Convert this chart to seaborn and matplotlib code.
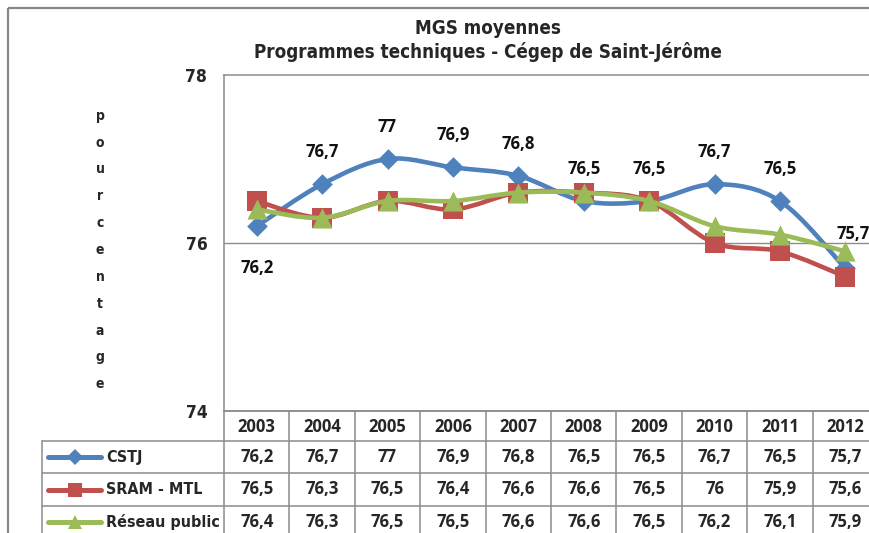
import numpy as np
import pandas as pd
import seaborn as sns
import matplotlib
matplotlib.use("Agg")
import matplotlib.pyplot as plt
from matplotlib import font_manager as fm
from matplotlib.path import Path
from matplotlib.patches import PathPatch, Rectangle
from matplotlib.lines import Line2D
from matplotlib.transforms import blended_transform_factory

# ---------------- data ----------------
years = ["2003", "2004", "2005", "2006", "2007", "2008", "2009", "2010", "2011", "2012"]
series_names = ["CSTJ", "SRAM - MTL", "Réseau public"]
cstj = [76.2, 76.7, 77.0, 76.9, 76.8, 76.5, 76.5, 76.7, 76.5, 75.7]
sram = [76.5, 76.3, 76.5, 76.4, 76.6, 76.6, 76.5, 76.0, 75.9, 75.6]
reseau = [76.4, 76.3, 76.5, 76.5, 76.6, 76.6, 76.5, 76.2, 76.1, 75.9]
y_ticks = [74, 76, 78]
title_lines = ["MGS moyennes", "Programmes techniques - Cégep de Saint-Jérôme"]
y_label = "pourcentage"

values = {"CSTJ": cstj, "SRAM - MTL": sram, "Réseau public": reseau}
df = pd.DataFrame({
    "idx": list(range(len(years))) * 3,
    "series": sum([[s] * len(years) for s in series_names], []),
    "value": cstj + sram + reseau,
})


def fmt(v):
    return ("%g" % v).replace(".", ",")


# ---------------- fonts ----------------
def pick(cands, need=("bold",)):
    for fam, stretch in cands:
        try:
            p = fm.findfont(fm.FontProperties(family=fam, weight="bold", stretch=stretch),
                            fallback_to_default=False)
        except Exception:
            continue
        low = p.lower().replace("-", "").replace("_", "")
        if all(n in low for n in need):
            return fam, stretch
    return "DejaVu Sans", "normal"


sns.set_style("white")
NARROW_FAM, NARROW_STRETCH = pick([("Liberation Sans Narrow", "normal"),
                                   ("DejaVu Sans", "condensed"),
                                   ("Liberation Sans", "normal")])
WIDE_FAM, _ = pick([("Noto Sans", "normal"), ("Open Sans", "normal"), ("Roboto", "normal"),
                    ("Lato", "normal"), ("DejaVu Sans", "normal")])
NARROW = dict(family=[NARROW_FAM, "DejaVu Sans"], stretch=NARROW_STRETCH, fontweight="bold")
WIDE = dict(family=[WIDE_FAM, "DejaVu Sans"], fontweight="bold")
plt.rcParams["font.family"] = [NARROW_FAM, "DejaVu Sans"]

colors = {"CSTJ": "#4F81BD", "SRAM - MTL": "#C0504D", "Réseau public": "#9BBB59"}
markers = {"CSTJ": "D", "SRAM - MTL": "s", "Réseau public": "^"}
msize = {"CSTJ": 10.5, "SRAM - MTL": 14.0, "Réseau public": 14.5}
GRAY = "#8C8C8C"

W, H = 870, 533
fig = plt.figure(figsize=(W / 100, H / 100), dpi=100)
fig.patch.set_facecolor("white")

ov = fig.add_axes([0, 0, 1, 1], zorder=0)
ov.set_xlim(0, W)
ov.set_ylim(H, 0)
ov.axis("off")

left_px, right_px, top_px, bot_px = 224, 878, 75, 411
ax = fig.add_axes([left_px / W, 1 - bot_px / H, (right_px - left_px) / W, (bot_px - top_px) / H], zorder=2)
ax.set_facecolor("none")
ax.set_xlim(-0.5, len(years) - 0.5)
ax.set_ylim(74, 78)

# outer border
ov.add_patch(Rectangle((8, 8), 1000, 1000, fill=False, edgecolor="#878787", linewidth=1.6))

ax.axhline(76, color=GRAY, linewidth=1.0, zorder=1)


def smooth_path(xs, ys):
    P = np.column_stack([xs, ys]).astype(float)
    n = len(P)
    verts = [P[0]]
    codes = [Path.MOVETO]
    for i in range(n - 1):
        p0 = P[i - 1] if i > 0 else P[i]
        p1 = P[i]
        p2 = P[i + 1]
        p3 = P[i + 2] if i + 2 < n else P[i + 1]
        c1 = p1 + (p2 - p0) / 6.0
        c2 = p2 - (p3 - p1) / 6.0
        verts += [c1, c2, p2]
        codes += [Path.CURVE4] * 3
    return Path(verts, codes)


for k, name in enumerate(series_names):
    sub = df[df["series"] == name]
    path = smooth_path(sub["idx"].values, sub["value"].values)
    ax.add_patch(PathPatch(path, fill=False, edgecolor=colors[name], linewidth=3.3,
                           capstyle="round", joinstyle="round", zorder=3 + 2 * k))
    sns.scatterplot(data=sub, x="idx", y="value", marker=markers[name], s=msize[name] ** 2,
                    color=colors[name], edgecolor=colors[name], linewidth=0, ax=ax,
                    zorder=4 + 2 * k, legend=False)

# data labels for CSTJ
for i, v in enumerate(cstj):
    if i == 0:
        dx, dy = 0, -42
    elif i == len(cstj) - 1:
        dx, dy = 8, 34
    else:
        dx, dy = 0, 32
    ax.annotate(fmt(v), (i, v), xytext=(dx * 0.72, dy * 0.72), textcoords="offset points",
                ha="center", va="center", fontsize=12, color="#111111", zorder=20,
                annotation_clip=False, **WIDE)

ax.set_xticks([])
ax.set_yticks(y_ticks)
ax.set_yticklabels([str(t) for t in y_ticks])
for lab in ax.get_yticklabels():
    lab.set_fontsize(12.5)
    lab.set_fontweight("bold")
    lab.set_family(NARROW["family"])
    lab.set_stretch(NARROW_STRETCH)
ax.tick_params(axis="y", length=0, pad=12)
ax.set_xlabel("")
ax.set_ylabel("")
for side in ["left", "top", "bottom"]:
    ax.spines[side].set_color(GRAY)
    ax.spines[side].set_linewidth(1.1)
ax.spines["right"].set_visible(False)

# vertical y label (stacked letters)
fig.text(100 / W, 1 - 250 / H, "\n".join(y_label), ha="center", va="center",
         fontsize=10, linespacing=2.17, **NARROW)

# titles
fig.text(488 / W, 1 - 33.5 / H, title_lines[0], ha="center", va="baseline",
         fontsize=13.5, **NARROW)
fig.text(488 / W, 1 - 58.5 / H, title_lines[1], ha="center", va="baseline",
         fontsize=13.5, **NARROW)

# ---------------- data table ----------------
tr = blended_transform_factory(ax.transData, ov.transData)
row_lines = [411, 441, 473, 506]
tbl_left = 42
n = len(years)
ov.plot([left_px, W + 20], [row_lines[0]] * 2, color=GRAY, lw=1.1, clip_on=False)
for yl in row_lines[1:]:
    ov.plot([tbl_left, W + 20], [yl, yl], color=GRAY, lw=1.1, clip_on=False)
ov.plot([tbl_left, tbl_left], [row_lines[1], H + 10], color=GRAY, lw=1.1, clip_on=False)
for j in range(n + 1):
    fig.add_artist(Line2D([j - 0.5, j - 0.5], [row_lines[0], H + 10], transform=tr,
                          color=GRAY, lw=1.1, clip_on=False))

for j, yr in enumerate(years):
    fig.add_artist(plt.Text(j, 432, yr, ha="center", va="baseline", fontsize=12,
                            transform=tr, **WIDE))

row_base = [462, 494, 527]
row_center = [457, 489.5, 522]
key_msize = {"CSTJ": 8, "SRAM - MTL": 10, "Réseau public": 10}
for r, name in enumerate(series_names):
    ov.add_line(Line2D([48, 101], [row_center[r]] * 2, color=colors[name], lw=3.6,
                       solid_capstyle="round"))
    ov.add_line(Line2D([75], [row_center[r]], marker=markers[name], markersize=key_msize[name],
                       color=colors[name], markeredgewidth=0, linestyle="none"))
    ov.text(106, row_base[r], name, ha="left", va="baseline", fontsize=11.5, **NARROW)
    for j, v in enumerate(values[name]):
        fig.add_artist(plt.Text(j, row_base[r], fmt(v), ha="center", va="baseline", fontsize=12,
                                transform=tr, **WIDE))

fig.savefig("out.png", dpi=100, facecolor="white")
